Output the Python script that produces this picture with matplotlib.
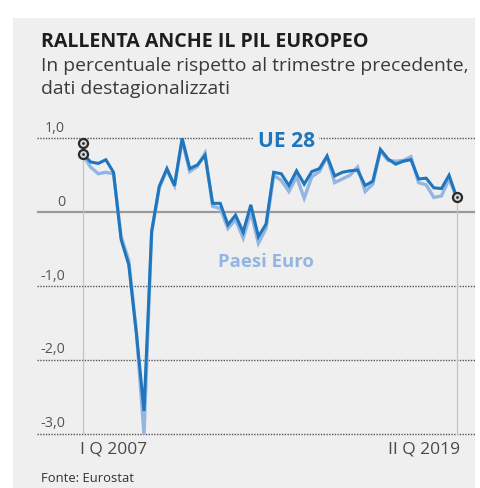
import matplotlib
matplotlib.use("Agg")
import matplotlib.pyplot as plt
import numpy as np

# ---- data (quarterly GDP growth, % q/q, I Q 2007 .. II Q 2019) ----
ue28 = [0.79, 0.68, 0.66, 0.71, 0.54, -0.37, -0.71, -1.64, -2.69, -0.26,
        0.35, 0.59, 0.36, 1.00, 0.59, 0.64, 0.77, 0.12, 0.12, -0.17,
        -0.04, -0.27, 0.10, -0.33, -0.16, 0.54, 0.52, 0.36, 0.56, 0.38,
        0.55, 0.59, 0.76, 0.49, 0.54, 0.56, 0.57, 0.36, 0.42, 0.85,
        0.72, 0.65, 0.69, 0.71, 0.45, 0.46, 0.33, 0.32, 0.50, 0.20]
paesi_euro = [0.77, 0.61, 0.52, 0.54, 0.52, -0.33, -0.65, -1.62, -3.01, -0.28,
              0.33, 0.57, 0.36, 0.97, 0.55, 0.62, 0.80, 0.08, 0.05, -0.22,
              -0.10, -0.35, 0.00, -0.42, -0.22, 0.50, 0.43, 0.28, 0.48, 0.19,
              0.48, 0.55, 0.75, 0.40, 0.45, 0.50, 0.61, 0.28, 0.38, 0.83,
              0.70, 0.69, 0.70, 0.75, 0.40, 0.37, 0.20, 0.22, 0.45, 0.20]
start_markers = [0.93, 0.79]
end_marker = 0.20
y_ticks = [1.0, 0.0, -1.0, -2.0, -3.0]
y_tick_labels = ["1,0", "0", "-1,0", "-2,0", "-3,0"]
x_labels = ["I Q 2007", "II Q 2019"]

BG = "#efefef"
DARK = "#1f76bd"
LIGHT = "#93b5e1"
FONT = "Open Sans"

fig = plt.figure(figsize=(4.8, 4.88), dpi=100)
fig.patch.set_facecolor("white")
W, H = 480, 488

# gray panel
bg_ax = fig.add_axes([13 / W, 0, (475 - 13) / W, (H - 18) / H], zorder=-5)
bg_ax.set_facecolor(BG)
bg_ax.set_xticks([]); bg_ax.set_yticks([])
for s in bg_ax.spines.values():
    s.set_visible(False)

ax_left, ax_right = 37, 475
ax_top, ax_bot = 125, 440
ax = fig.add_axes([ax_left / W, (H - ax_bot) / H, (ax_right - ax_left) / W, (ax_bot - ax_top) / H], zorder=1)
ax.set_facecolor("none")

n = len(ue28)
x = np.arange(n)
step = (456.7 - 83) / (n - 1)
xmin = 0 - (83 - ax_left) / step
xmax = (n - 1) + (ax_right - 456.7) / step
ax.set_xlim(xmin, xmax)
ppu = 73.9
ymax = 1 + (138.3 - ax_top) / ppu
ymin = 1 - (ax_bot - 138.3) / ppu
ax.set_ylim(ymin, ymax)

for s in ax.spines.values():
    s.set_visible(False)
ax.set_xticks([])
ax.set_yticks([])

# grid lines
for v in y_ticks:
    if v == 0:
        ax.axhline(0, color="#9a9a9a", lw=1.6, zorder=1)
    else:
        ax.axhline(v, color="#555555", lw=1.0, ls=(0, (1, 1)), zorder=1)

renderer = fig.canvas.get_renderer()


def fit(t, width_px):
    bb = t.get_window_extent(renderer=renderer)
    t.set_fontsize(t.get_fontsize() * width_px / bb.width)


# y labels
for v, lab in zip(y_ticks, y_tick_labels):
    t = ax.text(xmin + (65 - ax_left) / step, v + 0.035, lab, ha="right", va="bottom",
                fontsize=9, color="#555555", family=FONT)
    if lab == "1,0":
        fit(t, 20)
        yfs = t.get_fontsize()
for tt in ax.texts:
    tt.set_fontsize(yfs)

# vertical reference lines
ax.plot([0, 0], [-3, start_markers[1]], color="#c4c4c4", lw=0.9, zorder=1)
ax.plot([n - 1, n - 1], [-3, end_marker], color="#c4c4c4", lw=0.9, zorder=1)

# series
ax.plot(x, paesi_euro, color=LIGHT, lw=2.4, solid_joinstyle="miter", zorder=3)
ax.plot(x, ue28, color=DARK, lw=2.2, solid_joinstyle="miter", zorder=4)

# markers
for v in start_markers:
    ax.plot([0], [v], marker="o", ms=6.5, mfc="#d8d8d8", mec="#2a2a2a", mew=1.6, zorder=6)
    ax.plot([0], [v], marker="o", ms=2, mfc="#2a2a2a", mec="none", zorder=7)
ax.plot([n - 1], [end_marker], marker="o", ms=6.5, mfc="#d8d8d8", mec="#2a2a2a", mew=1.6, zorder=6)
ax.plot([n - 1], [end_marker], marker="o", ms=2, mfc="#2a2a2a", mec="none", zorder=7)

# series labels
t = ax.text(xmin + (258 - ax_left) / step, 0.95, "UE 28", ha="left", va="center",
            fontsize=11, fontweight="bold", color=DARK, family=FONT,
            bbox=dict(boxstyle="square,pad=0.2", fc=BG, ec="none"), zorder=5)
fit(t, 57)
t = ax.text(xmin + (218 - ax_left) / step, -0.68, "Paesi Euro", ha="left", va="center",
            fontsize=11, fontweight="bold", color=LIGHT, family=FONT, zorder=5)
fit(t, 95)

# x labels
t = fig.text(80 / W, 1 - 449 / H, x_labels[0], ha="left", va="center", fontsize=9.5,
             color="#4a4a4a", family=FONT)
fit(t, 67)
t = fig.text(460 / W, 1 - 449 / H, x_labels[1], ha="right", va="center", fontsize=9.5,
             color="#4a4a4a", family=FONT)
fit(t, 72)

# titles
t = fig.text(41 / W, 1 - 42 / H, "RALLENTA ANCHE IL PIL EUROPEO", ha="left", va="center",
             fontsize=11.5, fontweight="bold", color="#1e1e1e", family=FONT)
fit(t, 327)
t = fig.text(41 / W, 1 - 66 / H, "In percentuale rispetto al trimestre precedente,",
             ha="left", va="center", fontsize=11, color="#3a3a3a", family=FONT)
fit(t, 429)
t2 = fig.text(41 / W, 1 - 89 / H, "dati destagionalizzati",
              ha="left", va="center", fontsize=t.get_fontsize(), color="#3a3a3a", family=FONT)
t = fig.text(41 / W, 1 - 479 / H, "Fonte: Eurostat", ha="left", va="center",
             fontsize=6.5, color="#333333", family=FONT)
fit(t, 92)

fig.savefig("out.png", dpi=100, facecolor=fig.get_facecolor())
